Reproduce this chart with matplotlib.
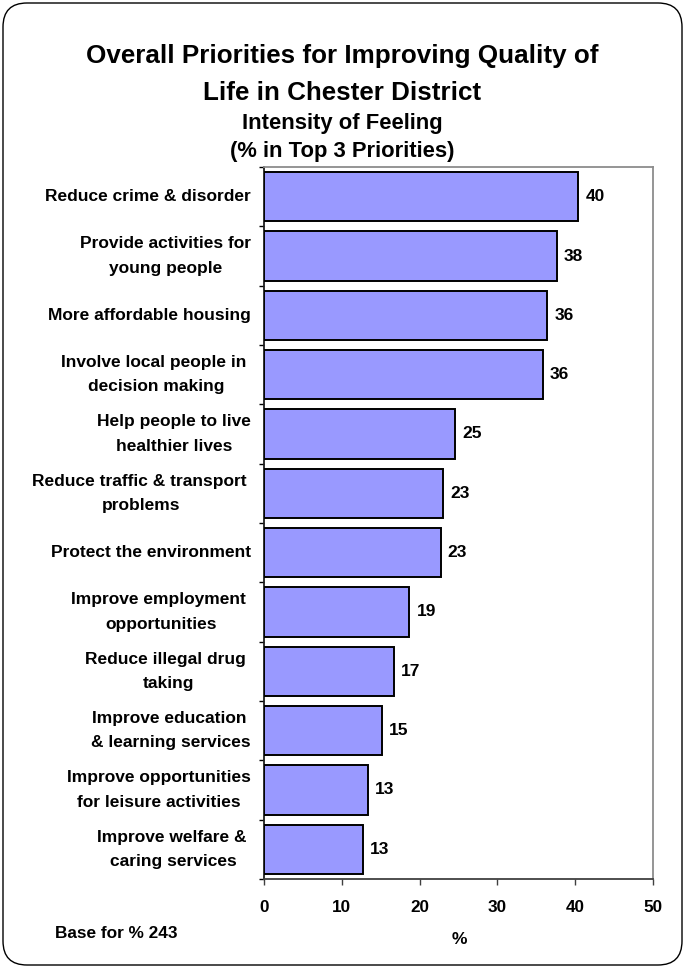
import matplotlib
matplotlib.use("Agg")
import matplotlib.pyplot as plt
from matplotlib.patches import FancyBboxPatch
from matplotlib.ticker import FixedLocator
import numpy as np

categories = [
    "Reduce crime & disorder",
    "Provide activities for\nyoung people",
    "More affordable housing",
    "Involve local people in \ndecision making",
    "Help people to live\nhealthier lives",
    "Reduce traffic & transport \nproblems",
    "Protect the environment",
    "Improve employment \nopportunities",
    "Reduce illegal drug \ntaking",
    "Improve education \n& learning services",
    "Improve opportunities\nfor leisure activities",
    "Improve welfare & \ncaring services",
]
values = [40.4, 37.6, 36.4, 35.8, 24.6, 23.0, 22.7, 18.7, 16.7, 15.2, 13.4, 12.7]
x_ticks = [0, 10, 20, 30, 40, 50]

FONT = ["Liberation Sans", "DejaVu Sans"]
plt.rcParams["font.family"] = FONT
plt.rcParams["font.weight"] = "bold"

W, H = 685, 967
fig = plt.figure(figsize=(W/100, H/100), dpi=100)

# rounded border
border = FancyBboxPatch((0.03, 0.02), 6.79, 9.62,
                        boxstyle="round,pad=0,rounding_size=0.24",
                        transform=fig.dpi_scale_trans, facecolor="none",
                        edgecolor="black", linewidth=1.0, zorder=-1)
fig.patches.append(border)

fig.text(0.5, 1-56/H, "Overall Priorities for Improving Quality of",
         ha="center", va="center", fontsize=18.7, fontweight="bold")
fig.text(0.5, 1-93/H, "Life in Chester District",
         ha="center", va="center", fontsize=18.7, fontweight="bold")
fig.text(0.5, 1-123/H, "Intensity of Feeling",
         ha="center", va="center", fontsize=15.8, fontweight="bold")
fig.text(0.5, 1-151/H, "(% in Top 3 Priorities)",
         ha="center", va="center", fontsize=15.8, fontweight="bold")

ax = fig.add_axes([264/W, 1-879/H, 389/W, 712/H])
ypos = np.arange(len(categories))
ax.barh(ypos, values, height=0.83, color="#9999FF", edgecolor="black",
        linewidth=1.4, zorder=3)
ax.set_ylim(len(categories)-0.5, -0.5)
ax.set_xlim(0, 50)

ax.set_xticks(x_ticks)
ax.set_xticklabels([str(t) for t in x_ticks], fontsize=12.3, fontweight="bold")
ax.tick_params(axis="x", direction="out", length=4, width=1, pad=11,
               color="#404040", labelcolor="black")
ax.set_yticks([])
ax.yaxis.set_minor_locator(FixedLocator(np.arange(-0.5, len(categories), 1.0)))
ax.tick_params(axis="y", which="minor", direction="out", length=3.6, width=1,
               color="black")

for sp in ["top", "right"]:
    ax.spines[sp].set_color("#8c8c8c")
    ax.spines[sp].set_linewidth(1.3)
ax.spines["left"].set_color("#202020")
ax.spines["left"].set_linewidth(1.3)
ax.spines["bottom"].set_color("#404040")
ax.spines["bottom"].set_linewidth(1.3)

trans = ax.get_yaxis_transform()
for y, lab in zip(ypos, categories):
    ax.text(-13/389, y, lab, transform=trans, ha="right", va="center",
            multialignment="center", fontsize=12.5, fontweight="bold",
            linespacing=1.78)

for y, v in zip(ypos, values):
    ax.annotate(f"{v:.0f}", (v, y), xytext=(7, 0), textcoords="offset pixels",
                ha="left", va="center", fontsize=12.5, fontweight="bold")

fig.text(459/W, 1-940/H, "%", ha="center", va="center",
         fontsize=12.5, fontweight="bold")
fig.text(55/W, 1-933/H, "Base for % 243", ha="left", va="center",
         fontsize=12.4, fontweight="bold")

fig.savefig("out.png", dpi=100)
